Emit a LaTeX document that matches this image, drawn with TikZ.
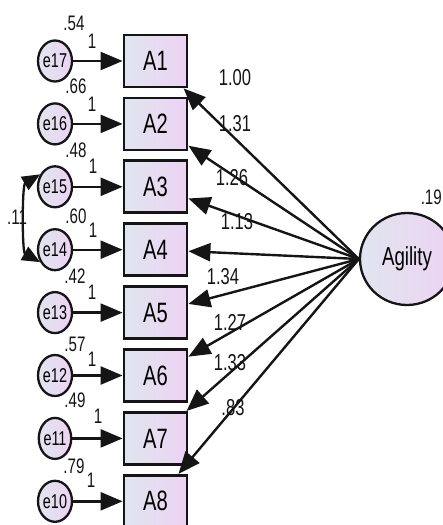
\documentclass[tikz,border=0pt]{standalone}
\usepackage{fontspec}
\setmainfont[FakeStretch=0.72]{Liberation Sans}
\usetikzlibrary{arrows.meta,shapes.geometric,calc}
\definecolor{inkc}{HTML}{151515}
\definecolor{fillL}{HTML}{E1E5EF}
\definecolor{fillR}{HTML}{ECD3F3}
\tikzset{
  obs/.style={draw=inkc, line width=2.8pt, minimum width=63pt, minimum height=52pt,
    left color=fillL, right color=fillR, inner sep=0pt, font=\fontsize{28}{28}\selectfont},
  err/.style={ellipse, draw=inkc, line width=2.3pt, minimum width=23pt, minimum height=41pt,
    left color=fillL, right color=fillR, inner sep=0pt, font=\fontsize{20}{20}\selectfont},
  lat/.style={ellipse, draw=inkc, line width=2.3pt, minimum width=94pt, minimum height=92pt,
    left color=fillL, right color=fillR, inner sep=0pt, font=\fontsize{26}{26}\selectfont},
  path/.style={draw=inkc, line width=2.4pt, -{Triangle[length=22pt,width=18pt]}},
  cov/.style={draw=inkc, line width=2.3pt, {Triangle[length=18pt,width=15pt]}-{Triangle[length=18pt,width=15pt]}},
  coef/.style={font=\fontsize{23}{23}\selectfont, text=inkc, inner sep=0pt},
  varl/.style={font=\fontsize{21}{21}\selectfont, text=inkc, inner sep=0pt},
}
\begin{document}
\begin{tikzpicture}[x=1pt,y=-1pt]
\useasboundingbox (0,0) rectangle (442,525);

% latent factor
\node[lat] (ag) at (407,259) {Agility};
\node[varl, anchor=east] (agv) at (442,197) {.19};

% indicators and their error terms
\foreach \k/\e [count=\i from 0] in {1/17,2/16,3/15,4/14,5/13,6/12,7/11,8/10}{
  \node[obs] (A\k) at (155.5,61+62.9*\i) {A\k};
  \node[err] (e\e) at (55,61+62.9*\i) {e\e};
  \draw[path] (e\e) -- (A\k);
}

% loadings
\coordinate (hub) at (ag.west);
\foreach \k in {1,...,8}{\draw[path] (hub) -- (A\k);}

\node[coef] (l1) at (235,78) {1.00};
\node[coef] (l2) at (235,124) {1.31};
\node[coef] (l3) at (232,178) {1.26};
\node[coef] (l4) at (237,222) {1.13};
\node[coef] (l5) at (223,277) {1.34};
\node[coef] (l6) at (230,322) {1.27};
\node[coef] (l7) at (230,363) {1.33};
\node[coef] (l8) at (233,408) {.83};

% error variances and fixed weights
\node[varl] (v17) at (74,23) {.54};  \node[varl] (w17) at (92,41) {1};
\node[varl] (v16) at (76,86) {.66};  \node[varl] (w16) at (92,104) {1};
\node[varl] (v15) at (76,150) {.48}; \node[varl] (w15) at (93,166) {1};
\node[varl] (v14) at (76,216) {.60}; \node[varl] (w14) at (93,230) {1};
\node[varl] (v13) at (75,276) {.42}; \node[varl] (w13) at (92,292) {1};
\node[varl] (v12) at (75,344) {.57}; \node[varl] (w12) at (92,359) {1};
\node[varl] (v11) at (75,400) {.49}; \node[varl] (w11) at (98,416) {1};
\node[varl] (v10) at (74,466) {.79}; \node[varl] (w10) at (91,480) {1};

% covariance between e15 and e14
\draw[cov] (e15.140) .. controls (22,185) and (22,252) .. (e14.220);
\node[varl] (c1) at (17,217) {.11};
\end{tikzpicture}
\end{document}
